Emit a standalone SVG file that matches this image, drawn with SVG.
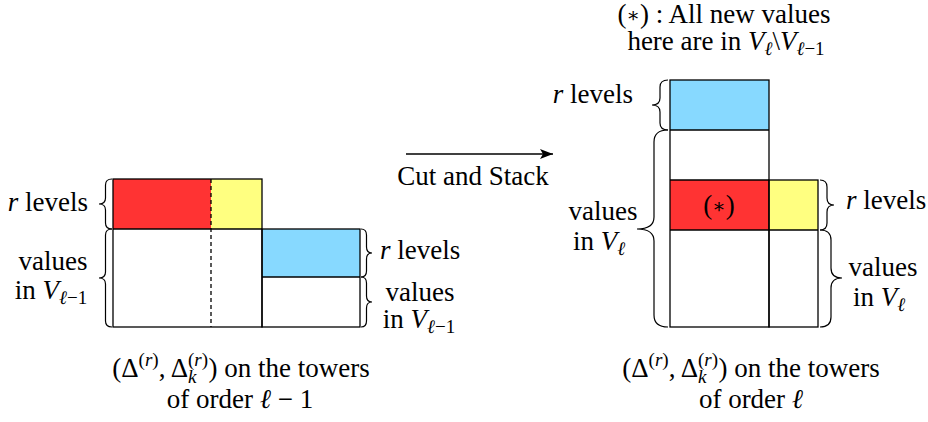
<svg xmlns="http://www.w3.org/2000/svg" width="928" height="422" viewBox="0 0 928 422">
<style>
.t{font-family:"Liberation Serif","DejaVu Serif",serif;font-size:27px;fill:#000}
.i{font-style:italic}
.s{font-size:19px}
.box{fill:none;stroke:#000;stroke-width:1.3}
.br{fill:none;stroke:#000;stroke-width:1.2}
.red{fill:#ff3333}
.yel{fill:#ffff80}
.blu{fill:#87d9ff}
</style>
<defs>
<marker id="ah" markerWidth="14" markerHeight="10" refX="13" refY="5" orient="auto" markerUnits="userSpaceOnUse">
<path d="M13 5 L0 0 L3 5 L0 10 Z" fill="#000"/>
</marker>
</defs>
<rect width="928" height="422" fill="#fff"/>

<g id="left-towers">
<rect class="red" x="113" y="179" width="98" height="50"/>
<rect class="yel" x="211" y="179" width="51" height="50"/>
<rect class="blu" x="262" y="229" width="98" height="48"/>
<rect class="box" x="113" y="179" width="149" height="148"/>
<rect class="box" x="262" y="229" width="98" height="98"/>
<line class="box" x1="113" y1="229" x2="262" y2="229"/>
<line class="box" x1="262" y1="277" x2="360" y2="277"/>
<line class="box" x1="211" y1="179" x2="211" y2="327" stroke-dasharray="4,3"/>
</g>

<g id="left-braces">
<path class="br" d="M112 179 Q105.5 179 105.5 185 L105.5 198 Q105.5 204 99 204 Q105.5 204 105.5 210 L105.5 223 Q105.5 229 112 229"/>
<path class="br" d="M112 229 Q105.5 229 105.5 235 L105.5 272 Q105.5 278 99 278 Q105.5 278 105.5 284 L105.5 321 Q105.5 327 112 327"/>
<path class="br" d="M361 229 Q366.5 229 366.5 235 L366.5 247 Q366.5 253 372 253 Q366.5 253 366.5 259 L366.5 271 Q366.5 277 361 277"/>
<path class="br" d="M361 277 Q366.5 277 366.5 283 L366.5 296 Q366.5 302 372 302 Q366.5 302 366.5 308 L366.5 321 Q366.5 327 361 327"/>
</g>

<g id="left-labels">
<text class="t" x="88" y="211" text-anchor="end"><tspan class="i">r</tspan> levels</text>
<text class="t" x="53" y="270" text-anchor="middle">values</text>
<text class="t" x="51" y="299" text-anchor="middle">in <tspan class="i">V</tspan><tspan class="s" dy="5"><tspan class="i">ℓ</tspan>−1</tspan></text>
<text class="t" x="380" y="259"><tspan class="i">r</tspan> levels</text>
<text class="t" x="420" y="301" text-anchor="middle">values</text>
<text class="t" x="419" y="328" text-anchor="middle">in <tspan class="i">V</tspan><tspan class="s" dy="5"><tspan class="i">ℓ</tspan>−1</tspan></text>
<text class="t" x="241" y="377" text-anchor="middle">(Δ<tspan class="s" dy="-11">(<tspan class="i">r</tspan>)</tspan><tspan dy="11">, Δ</tspan><tspan class="s" dy="-11">(<tspan class="i">r</tspan>)</tspan><tspan class="s i" dx="-20" dy="17">k</tspan><tspan dx="12" dy="-6">) on the towers</tspan></text>
<text class="t" x="240" y="408" text-anchor="middle">of order <tspan class="i">ℓ</tspan> − 1</text>
</g>

<g id="connectors">
<line x1="406" y1="154" x2="553" y2="154" stroke="#000" stroke-width="1.3" marker-end="url(#ah)"/>
<text class="t" x="473" y="185" text-anchor="middle">Cut and Stack</text>
</g>

<g id="right-towers">
<rect class="blu" x="670" y="80" width="99" height="50"/>
<rect class="red" x="670" y="180" width="99" height="50"/>
<rect class="yel" x="769" y="180" width="49" height="50"/>
<rect class="box" x="670" y="80" width="99" height="247"/>
<rect class="box" x="769" y="180" width="49" height="147"/>
<line class="box" x1="670" y1="130" x2="769" y2="130"/>
<line class="box" x1="670" y1="180" x2="769" y2="180"/>
<line class="box" x1="670" y1="230" x2="818" y2="230"/>
<text class="t" x="719" y="214" text-anchor="middle">(<tspan font-size="20" dy="-1">∗</tspan><tspan dy="1">)</tspan></text>
</g>

<g id="right-braces">
<path class="br" d="M668 80 Q660 80 660 87 L660 98 Q660 105 652 105 Q660 105 660 112 L660 123 Q660 130 668 130"/>
<path class="br" d="M668 130 Q654 130 654 142 L654 217 Q654 229 637 229 Q654 229 654 241 L654 315 Q654 327 668 327"/>
<path class="br" d="M820 180 Q827 180 827 187 L827 198 Q827 205 834 205 Q827 205 827 212 L827 223 Q827 230 820 230"/>
<path class="br" d="M820 230 Q831 230 831 240 L831 268 Q831 278 842 278 Q831 278 831 288 L831 317 Q831 327 820 327"/>
</g>

<g id="right-labels">
<text class="t" x="724" y="23" text-anchor="middle">(<tspan font-size="20" dy="-1">∗</tspan><tspan dy="1">) : All new values</tspan></text>
<text class="t" x="726" y="50" text-anchor="middle">here are in <tspan class="i">V</tspan><tspan class="s i" dy="5">ℓ</tspan><tspan dy="-5">\</tspan><tspan class="i">V</tspan><tspan class="s" dy="5"><tspan class="i">ℓ</tspan>−1</tspan></text>
<text class="t" x="633" y="103" text-anchor="end"><tspan class="i">r</tspan> levels</text>
<text class="t" x="603" y="220" text-anchor="middle">values</text>
<text class="t" x="599" y="250" text-anchor="middle">in <tspan class="i">V</tspan><tspan class="s i" dy="5">ℓ</tspan></text>
<text class="t" x="846" y="209"><tspan class="i">r</tspan> levels</text>
<text class="t" x="883" y="276" text-anchor="middle">values</text>
<text class="t" x="879" y="306" text-anchor="middle">in <tspan class="i">V</tspan><tspan class="s i" dy="5">ℓ</tspan></text>
<text class="t" x="751" y="377" text-anchor="middle">(Δ<tspan class="s" dy="-11">(<tspan class="i">r</tspan>)</tspan><tspan dy="11">, Δ</tspan><tspan class="s" dy="-11">(<tspan class="i">r</tspan>)</tspan><tspan class="s i" dx="-20" dy="17">k</tspan><tspan dx="12" dy="-6">) on the towers</tspan></text>
<text class="t" x="751" y="408" text-anchor="middle">of order <tspan class="i">ℓ</tspan></text>
</g>
</svg>
